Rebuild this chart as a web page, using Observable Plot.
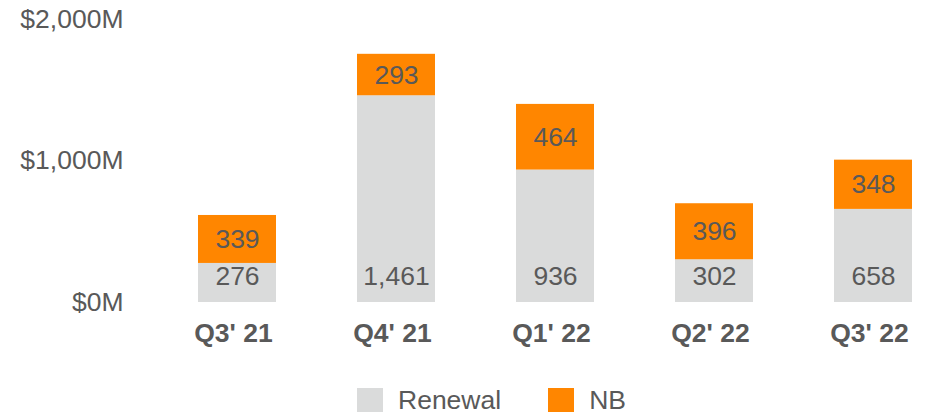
<!DOCTYPE html>
<html>
<head>
<meta charset="utf-8">
<script src="https://cdn.jsdelivr.net/npm/d3@7"></script>
<script src="https://cdn.jsdelivr.net/npm/@observablehq/plot@0.6"></script>
<style>
  html, body { margin: 0; padding: 0; background: #fff; }
  body { width: 927px; height: 416px; overflow: hidden; font-family: "Liberation Sans", Arial, sans-serif; }
  #legend { display: flex; align-items: center; margin-top: 18px; margin-left: 357px; font-size: 26.5px; line-height: 24px; color: #595959; }
  .sw { width: 26px; height: 24px; display: inline-block; }
  .item { display: flex; align-items: center; height: 24px; }
</style>
</head>
<body>
<div id="chart"></div>
<div id="legend"></div>
<script>
const quarters = ["Q3' 21", "Q4' 21", "Q1' 22", "Q2' 22", "Q3' 22"];
const renewal = [276, 1461, 936, 302, 658];
const nb = [339, 293, 464, 396, 348];
const seriesNames = ["Renewal", "NB"];
const seriesColors = ["#DADBDB", "#FF8600"];
const yTicks = [0, 1000, 2000];

const rows = [];
quarters.forEach((q, i) => {
  rows.push({quarter: q, series: "Renewal", value: renewal[i]});
  rows.push({quarter: q, series: "NB", value: nb[i]});
});
const nbRows = quarters.map((q, i) => ({quarter: q, mid: renewal[i] + nb[i] / 2, value: nb[i]}));
const renRows = quarters.map((q, i) => ({quarter: q, value: renewal[i]}));

const textColor = "#595959";
const font = "Liberation Sans, Arial, sans-serif";
const fs = 26.5;

const plot = Plot.plot({
  width: 927,
  height: 370,
  marginTop: 19,
  marginBottom: 68,
  marginLeft: 196,
  marginRight: 14,
  style: {fontFamily: font, fontSize: fs + "px", color: textColor, background: "#fff"},
  x: {domain: quarters, paddingInner: 0.51, paddingOuter: 0, label: null},
  y: {domain: [0, 2000], label: null},
  color: {domain: seriesNames, range: seriesColors},
  marks: [
    Plot.barY(rows, Plot.stackY({x: "quarter", y: "value", fill: "series", z: "series", order: seriesNames})),
    Plot.text(nbRows, {x: "quarter", y: "mid", text: d => d3.format(",")(d.value), fill: textColor, fontSize: fs}),
    Plot.text(renRows, {x: "quarter", y: 0, dy: -26, text: d => d3.format(",")(d.value), fill: textColor, fontSize: fs}),
    Plot.axisY({ticks: yTicks, tickSize: 0, tickPadding: 73, tickFormat: d => "$" + d3.format(",")(d) + "M", fill: textColor, fontSize: fs, label: null}),
    Plot.axisX({tickSize: 0, tickPadding: 21, dx: -4, fontWeight: "bold", fill: textColor, fontSize: fs, label: null})
  ]
});
document.getElementById("chart").appendChild(plot);

const legend = document.getElementById("legend");
seriesNames.forEach((s, i) => {
  const item = document.createElement("div");
  item.className = "item";
  item.style.marginRight = i === 0 ? "47px" : "0";
  const sw = document.createElement("span");
  sw.className = "sw";
  sw.style.background = seriesColors[i];
  const t = document.createElement("span");
  t.textContent = s;
  t.style.marginLeft = "15px";
  item.appendChild(sw);
  item.appendChild(t);
  legend.appendChild(item);
});
</script>
</body>
</html>
